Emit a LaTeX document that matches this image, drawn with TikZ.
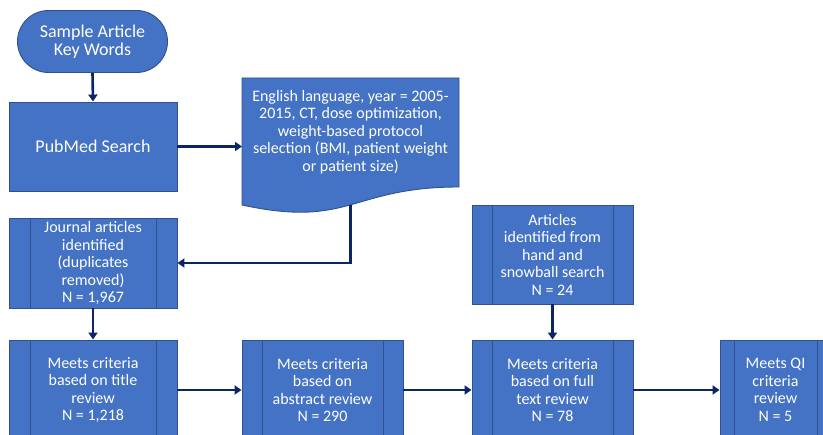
\documentclass[tikz,border=0pt]{standalone}
\usepackage{fontspec}
\setmainfont{Carlito}
\usetikzlibrary{arrows.meta}
\definecolor{boxfill}{HTML}{4472C4}
\definecolor{boxline}{HTML}{2F528F}
\definecolor{arrowc}{HTML}{0B2566}
\tikzset{
  every node/.style={text=white, align=center, font=\fontsize{16}{17.5}\selectfont},
  shapebox/.style={draw=boxline, fill=boxfill, line width=0.9pt, inner sep=0pt},
  plainbox/.style={shapebox, rectangle, minimum width=#1},
  predef/.style 2 args={shapebox, rectangle, minimum width=#1,
    path picture={\draw[boxline, line width=0.9pt]
      ([xshift=#2]path picture bounding box.north west) -- ([xshift=#2]path picture bounding box.south west)
      ([xshift=-#2]path picture bounding box.north east) -- ([xshift=-#2]path picture bounding box.south east);}},
  conn/.style={draw=arrowc, line width=2.6pt, -{Triangle[length=7pt,width=9pt]}},
  bigfont/.style={font=\fontsize{18}{17.5}\selectfont},
}
\begin{document}
\begin{tikzpicture}[x=1pt, y=-1pt]
\useasboundingbox (0,0) rectangle (823,435);
\clip (0,0) rectangle (823,435);

% terminator
\node[shapebox, bigfont, rounded corners=31pt, minimum width=150pt, minimum height=62pt] (term) at (92.5,41.5) {Sample Article\\Key Words};

% PubMed
\node[plainbox=168pt, bigfont, minimum height=89pt] (pubmed) at (93,146.5) {PubMed Search};

% document shape
\path[shapebox] (242,78) -- (459,78) -- (459,187)
  .. controls (350.5,187) and (350.5,228.6) .. (242,205) -- cycle;
\node (doc) at (350.5,132) {English language, year = 2005-\\2015, CT, dose optimization,\\weight-based protocol\\selection (BMI, patient weight\\or patient size)};
\coordinate (docleft) at (242,146.5);
\coordinate (docbot) at (350.5,205);

% journal
\node[predef={168pt}{21pt}, minimum height=90pt] (journal) at (93,263) {Journal articles\\identified\\(duplicates\\removed)\\N = 1,967};

% articles from hand search
\node[predef={161pt}{20pt}, minimum height=99pt] (hand) at (552.5,254.5) {Articles\\identified from\\hand and\\snowball search\\N = 24};

% bottom row
\node[predef={168pt}{21pt}, minimum height=100pt] (title) at (93,390) {Meets criteria\\based on title\\review\\N = 1,218};
\node[predef={161pt}{20pt}, minimum height=100pt] (abstract) at (322.5,390) {Meets criteria\\based on\\abstract review\\N = 290};
\node[predef={161pt}{20pt}, minimum height=100pt] (full) at (552.5,390) {Meets criteria\\based on full\\text review\\N = 78};
\node[predef={111pt}{14pt}, minimum height=100pt] (qi) at (775.5,390) {Meets QI\\criteria\\review\\N = 5};

% connectors
\draw[conn] (term.south) -- (pubmed.north);
\draw[conn] (pubmed.east) -- (docleft);
\draw[conn] (docbot) |- (journal.east);
\draw[conn] (journal.south) -- (title.north);
\draw[conn] (title.east) -- (abstract.west);
\draw[conn] (abstract.east) -- (full.west);
\draw[conn] (hand.south) -- (full.north);
\draw[conn] (full.east) -- (qi.west);
\end{tikzpicture}
\end{document}
